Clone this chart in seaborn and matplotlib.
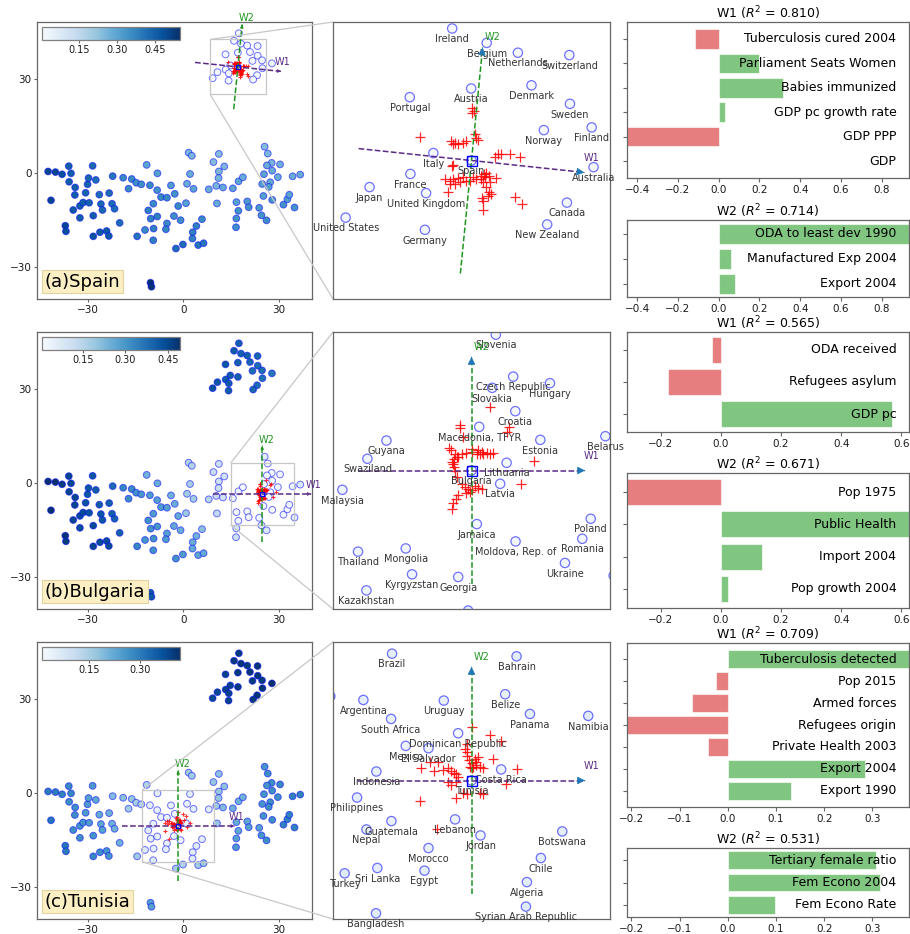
import numpy as np
import pandas as pd
import matplotlib
matplotlib.use('Agg')
import matplotlib.pyplot as plt
from matplotlib.colors import Normalize
from matplotlib.cm import ScalarMappable
from matplotlib.ticker import FormatStrFormatter
from mpl_toolkits.axes_grid1.inset_locator import mark_inset
import seaborn as sns

# === Embedding of the countries ===
top_names = ['', 'Ireland', 'Belgium', 'Netherlands', 'Switzerland', 'Portugal', 'Austria',
             'Denmark', 'Sweden', 'Finland', 'Norway', 'Italy', 'Spain', 'Australia', 'France',
             'Japan', 'United Kingdom', 'United States', 'Canada', 'Germany', 'New Zealand', '']
top_x = [17.5, 15.98, 18.16, 20.13, 23.38, 13.30, 17.18, 20.99, 23.42, 24.79, 21.77, 14.79,
         17.20, 24.91, 13.34, 10.76, 14.33, 9.25, 23.23, 14.26, 21.98, 27.9]
top_y = [44.6, 42.21, 41.30, 40.68, 40.53, 37.87, 38.42, 38.62, 37.45, 35.96, 35.79, 34.34,
         33.87, 33.45, 33.02, 32.19, 31.81, 30.26, 31.21, 29.49, 29.83, 35.0]

left_names = [''] * 34
left_x = [-42.5, -40.2, -38.1, -36.0, -35.3, -35.9, -34.0, -34.1, -41.6, -37.1, -36.9, -34.6,
          -32.5, -31.5, -32.5, -29.6, -30.7, -30.1, -29.8, -28.5, -27.5, -26.4, -25.9, -25.4,
          -28.3, -28.3, -26.2, -24.1, -23.4, -23.3, -22.4, -21.6, -20.0, -22.2]
left_y = [0.5, 0.3, -0.4, 2.2, -0.1, -2.8, -4.6, -7.0, -8.7, -16.8, -18.6, -11.8, -10.5, -9.4,
          -14.3, -9.5, -6.3, -3.6, -1.6, 2.3, -2.2, -6.9, -9.9, -11.8, -13.6, -20.2, -18.9,
          -18.5, -20.1, -6.4, -9.8, -11.4, -15.9, -1.0]

mid_names = ['', '', '', '', '', '', 'Argentina', 'Brazil', 'South Africa', 'Mexico',
             'El Salvador', 'Uruguay', 'Dominican Republic', 'Indonesia', 'Philippines', 'Nepal',
             'Guatemala', 'Morocco', 'Egypt', 'Sri Lanka', 'Turkey', '', 'Bangladesh', 'Tunisia',
             'Costa Rica', 'Lebanon', 'Jordan', '', '', 'Belize', 'Bahrain', 'Panama', '', '',
             'Botswana', 'Chile', 'Algeria', 'Syrian Arab Republic', '', '']
mid_x = [-18.9, -17.2, -16.2, -14.8, -13.2, -11.5, -10.48, -8.12, -8.20, -6.99, -5.12, -3.86,
         -2.68, -9.41, -11.0, -10.23, -8.17, -5.12, -5.45, -9.33, -12.02, -14.5, -9.44, -1.58,
         0.86, -2.93, -0.84, -2.3, -0.1, 1.19, 2.13, 3.23, 1.7, 2.7, 5.89, 4.13, 2.98, 2.90,
         4.7, 6.4]
mid_y = [-1.5, -5.0, -1.9, -3.1, -3.6, 2.6, -3.90, -0.09, -5.46, -7.68, -7.87, -3.95, -6.64,
         -9.79, -11.93, -14.56, -13.87, -16.09, -17.95, -17.73, -18.17, -20.2, -21.46, -10.53,
         -9.62, -13.73, -15.05, -24.1, -22.8, -3.43, -0.31, -5.05, 6.5, 5.5, -14.72, -16.91,
         -18.89, -20.91, -23.0, -22.4]

right_names = ['Namibia', '', '', '', '', '', '', '', '', 'Malaysia', 'Swaziland', 'Guyana',
               'Thailand', 'Mongolia', 'Kyrgyzstan', 'Kazakhstan', '', '', 'Georgia', '', '',
               '', 'Slovenia', 'Czech Republic', 'Slovakia', 'Hungary', 'Croatia', 'Estonia',
               'Macedonia, TFYR', 'Lithuania', 'Bulgaria', 'Latvia', 'Jamaica',
               'Moldova, Rep. of', 'Ukraine', 'Romania', 'Poland', '', 'Belarus', '']
right_x = [8.03, 9.5, 11.2, 12.9, 11.2, 11.1, 10.4, 12.5, 10.6, 15.61, 17.40, 18.76, 16.73,
           20.14, 20.59, 17.33, 16.7, 16.6, 23.89, 24.6, 26.2, 25.6, 26.58, 27.82, 26.32, 30.45,
           27.97, 29.76, 25.39, 27.35, 24.84, 26.89, 25.22, 27.99, 31.52, 32.76, 33.36, 35.0,
           34.41, 36.8]
right_y = [-5.21, 3.5, 6.1, 2.1, 0.5, -1.6, -4.1, -4.6, -9.7, -4.87, -2.65, -1.35, -9.29,
           -9.06, -10.91, -12.06, -14.5, -17.3, -11.1, -13.5, -15.1, 8.4, 6.22, 3.22, 2.42,
           2.75, 0.75, -1.30, -0.37, -2.94, -3.49, -4.44, -7.32, -8.56, -10.1, -8.37, -6.94,
           -11.0, -1.04, -0.5]

bottom_names = ['', '']
bottom_x = [-10.3, -10.0]
bottom_y = [-35.0, -36.3]

names = top_names + left_names + mid_names + right_names + bottom_names
emb_x = np.array(top_x + left_x + mid_x + right_x + bottom_x)
emb_y = np.array(top_y + left_y + mid_y + right_y + bottom_y)

# === Colour value of each country, one list per explained instance ===
spain_vals = ([0.02, 0.01, 0.01, 0.01, 0.02, 0.01, 0.01, 0.01, 0.02, 0.02, 0.01, 0.01, 0.003,
               0.02, 0.01, 0.02, 0.01, 0.02, 0.02, 0.02, 0.02, 0.03]
              + [0.50, 0.50, 0.48, 0.45, 0.45, 0.45, 0.45, 0.45, 0.50, 0.50, 0.48, 0.46, 0.45,
                 0.45, 0.45, 0.44, 0.44, 0.44, 0.43, 0.43, 0.42, 0.42, 0.43, 0.43, 0.45, 0.47,
                 0.46, 0.46, 0.46, 0.42, 0.42, 0.42, 0.42, 0.40]
              + [0.36, 0.36, 0.36, 0.35, 0.35, 0.30, 0.36, 0.31, 0.34, 0.36, 0.36, 0.32, 0.34,
                 0.36, 0.38, 0.38, 0.38, 0.36, 0.37, 0.38, 0.36, 0.40, 0.38, 0.36, 0.31, 0.35,
                 0.35, 0.42, 0.42, 0.28, 0.28, 0.30, 0.26, 0.26, 0.36, 0.38, 0.38, 0.38, 0.40,
                 0.40]
              + [0.28, 0.24, 0.24, 0.25, 0.25, 0.26, 0.26, 0.28, 0.28, 0.30, 0.30, 0.28, 0.31,
                 0.32, 0.34, 0.34, 0.34, 0.35, 0.33, 0.34, 0.35, 0.24, 0.25, 0.26, 0.28, 0.27,
                 0.28, 0.28, 0.30, 0.29, 0.31, 0.31, 0.31, 0.34, 0.34, 0.32, 0.30, 0.34, 0.28,
                 0.28]
              + [0.548, 0.54])
bulgaria_vals = ([0.40, 0.41, 0.40, 0.40, 0.39, 0.42, 0.40, 0.39, 0.38, 0.38, 0.38, 0.41, 0.40,
                  0.37, 0.41, 0.42, 0.41, 0.43, 0.38, 0.41, 0.39, 0.36]
                 + [0.49, 0.493, 0.47, 0.45, 0.45, 0.45, 0.45, 0.45, 0.49, 0.48, 0.47, 0.45, 0.44,
                    0.44, 0.44, 0.43, 0.43, 0.42, 0.42, 0.42, 0.41, 0.41, 0.42, 0.42, 0.44, 0.45,
                    0.44, 0.44, 0.44, 0.40, 0.40, 0.40, 0.40, 0.38]
                 + [0.33, 0.32, 0.32, 0.31, 0.30, 0.24, 0.29, 0.25, 0.28, 0.29, 0.28, 0.24, 0.25,
                    0.29, 0.31, 0.31, 0.30, 0.28, 0.29, 0.31, 0.30, 0.33, 0.31, 0.26, 0.19, 0.26,
                    0.25, 0.31, 0.29, 0.18, 0.17, 0.18, 0.16, 0.16, 0.21, 0.24, 0.25, 0.26, 0.27,
                    0.26]
                 + [0.15, 0.12, 0.11, 0.10, 0.11, 0.11, 0.12, 0.10, 0.13, 0.03, 0.03, 0.02, 0.03,
                    0.02, 0.03, 0.03, 0.09, 0.11, 0.02, 0.06, 0.07, 0.06, 0.02, 0.02, 0.01, 0.02,
                    0.01, 0.02, 0.01, 0.01, 0.006, 0.01, 0.02, 0.02, 0.03, 0.02, 0.03, 0.06, 0.03,
                    0.07]
                 + [0.42, 0.42])
tunisia_vals = ([0.40, 0.40, 0.41, 0.40, 0.41, 0.39, 0.40, 0.41, 0.41, 0.40, 0.40, 0.39, 0.40,
                 0.41, 0.39, 0.38, 0.39, 0.38, 0.41, 0.39, 0.40, 0.419]
                + [0.30, 0.30, 0.29, 0.28, 0.28, 0.27, 0.27, 0.27, 0.31, 0.31, 0.30, 0.27, 0.26,
                   0.26, 0.27, 0.25, 0.25, 0.25, 0.24, 0.25, 0.23, 0.22, 0.23, 0.24, 0.26, 0.28,
                   0.27, 0.26, 0.26, 0.21, 0.21, 0.21, 0.21, 0.19]
                + [0.18, 0.16, 0.17, 0.15, 0.14, 0.14, 0.05, 0.05, 0.04, 0.03, 0.03, 0.04, 0.02,
                   0.04, 0.05, 0.05, 0.04, 0.04, 0.05, 0.05, 0.06, 0.16, 0.06, 0.009, 0.03, 0.03,
                   0.03, 0.15, 0.14, 0.04, 0.05, 0.05, 0.16, 0.16, 0.05, 0.05, 0.05, 0.06, 0.16,
                   0.17]
                + [0.06, 0.17, 0.18, 0.18, 0.17, 0.17, 0.16, 0.19, 0.17, 0.21, 0.21, 0.21, 0.22,
                   0.23, 0.24, 0.23, 0.24, 0.25, 0.24, 0.26, 0.27, 0.26, 0.27, 0.27, 0.26, 0.28,
                   0.27, 0.27, 0.26, 0.27, 0.26, 0.27, 0.26, 0.27, 0.29, 0.29, 0.29, 0.29, 0.29,
                   0.29]
                + [0.24, 0.24])

# === Perturbed samples around each instance (red crosses) ===
spain_cross_x = [13.95, 15.88, 16.00, 16.15, 16.32, 16.67, 16.88, 17.45, 17.51, 17.64, 17.26,
                 17.35, 17.20, 15.94, 16.00, 15.52, 15.84, 16.05, 16.36, 16.67, 17.09, 17.51,
                 17.83, 17.97, 18.14, 18.31, 17.83, 17.93, 18.04, 18.35, 18.77, 18.14, 18.31,
                 18.41, 18.25, 17.89, 17.93, 17.93, 15.69, 15.84, 18.67, 18.88, 19.08, 19.61,
                 20.24, 19.92, 20.41, 17.30, 16.88, 16.46, 16.15]
spain_cross_y = [35.36, 35.08, 34.89, 34.98, 34.89, 34.98, 35.08, 35.53, 35.32, 35.19, 37.17,
                 37.00, 36.89, 33.51, 33.60, 32.70, 32.60, 32.70, 32.75, 32.81, 32.60, 32.70,
                 32.92, 33.02, 33.06, 32.92, 32.70, 32.49, 32.81, 32.49, 32.75, 32.17, 31.85,
                 31.75, 31.64, 31.53, 31.32, 30.72, 31.85, 32.38, 34.09, 34.26, 34.30, 34.26,
                 34.09, 31.58, 31.11, 32.81, 32.60, 32.49, 32.38]
bulgaria_cross_x = [26.15, 24.01, 24.05, 24.25, 27.49, 27.35, 29.30, 28.37, 23.24, 23.41, 23.65,
                    23.89, 24.13, 24.48, 24.84, 24.91, 25.20, 25.44, 25.68, 25.92, 26.15, 26.39,
                    25.32, 25.56, 23.48, 23.58, 23.65, 23.77, 24.13, 24.36, 24.60, 24.84, 25.08,
                    25.32, 25.56, 24.72, 24.48, 23.89, 23.72, 23.53, 23.43, 23.77, 23.58, 23.53]
bulgaria_cross_y = [1.08, -0.27, -0.44, -1.06, -0.35, -0.75, -2.82, -4.49, -1.87, -2.06, -2.30,
                    -2.49, -2.34, -2.25, -1.94, -2.18, -2.30, -2.34, -2.30, -2.25, -2.30, -2.25,
                    -2.06, -2.18, -2.89, -3.25, -3.49, -3.96, -4.44, -4.68, -4.80, -4.87, -4.63,
                    -4.72, -4.80, -5.03, -5.11, -5.27, -5.51, -5.82, -6.27, -2.54, -2.65, -3.01]
tunisia_cross_x = [-1.55, -0.07, 0.81, -1.99, -2.13, -1.99, -1.94, -1.77, -1.58, -1.44, -1.17,
                   -0.89, -0.62, -1.03, -1.31, -1.17, 0.15, 2.18, 1.25, -5.01, -4.33, -5.70,
                   -4.68, -3.91, -3.50, -3.23, -3.04, -2.87, -2.68, -2.82, -3.50, -3.23, -2.32,
                   -1.99, -2.82, -5.84, -4.46, -0.89, -0.67, -1.72, -1.50]
tunisia_cross_y = [-6.12, -6.75, -7.27, -7.49, -7.90, -8.17, -8.53, -8.86, -9.13, -9.41, -9.27,
                   -9.41, -9.54, -8.58, -8.72, -8.99, -8.75, -9.62, -10.78, -8.99, -8.99, -9.49,
                   -9.73, -9.68, -9.54, -9.73, -9.90, -10.01, -10.23, -10.64, -10.69, -10.91,
                   -11.60, -11.65, -11.93, -12.23, -14.56, -11.54, -11.65, -9.41, -9.54]

# === Explanation directions in the embedding ===
w1_dirs = [(0.994, -0.105), (1.0, 0.0), (1.0, 0.0)]
w2_dirs = [(0.098, 0.995), (0.0, 1.0), (0.0, 1.0)]

# === Feature weights ===
spain_w1_feat = ['Tuberculosis cured 2004', 'Parliament Seats Women', 'Babies immunized',
                 'GDP pc growth rate', 'GDP PPP', 'GDP']
spain_w1_val = [-0.116, 0.198, 0.317, 0.031, -0.45, 0.0]
spain_w2_feat = ['ODA to least dev 1990', 'Manufactured Exp 2004', 'Export 2004']
spain_w2_val = [0.934, 0.062, 0.08]
bulgaria_w1_feat = ['ODA received', 'Refugees asylum', 'GDP pc']
bulgaria_w1_val = [-0.03, -0.176, 0.57]
bulgaria_w2_feat = ['Pop 1975', 'Public Health', 'Import 2004', 'Pop growth 2004']
bulgaria_w2_val = [-0.312, 0.625, 0.137, 0.024]
tunisia_w1_feat = ['Tuberculosis detected', 'Pop 2015', 'Armed forces', 'Refugees origin',
                   'Private Health 2003', 'Export 2004', 'Export 1990']
tunisia_w1_val = [0.376, -0.024, -0.075, -0.209, -0.042, 0.285, 0.131]
tunisia_w2_feat = ['Tertiary female ratio', 'Fem Econo 2004', 'Fem Econo Rate']
tunisia_w2_val = [0.308, 0.315, 0.099]

r2_w1 = ['0.810', '0.565', '0.709']
r2_w2 = ['0.714', '0.671', '0.531']
instances = ['Spain', 'Bulgaria', 'Tunisia']
tags = ['(a)Spain', '(b)Bulgaria', '(c)Tunisia']
cbar_ticks = [[0.15, 0.30, 0.45], [0.15, 0.30, 0.45], [0.15, 0.30]]

rows = [
    (spain_vals, spain_cross_x, spain_cross_y, spain_w1_feat, spain_w1_val, spain_w2_feat, spain_w2_val),
    (bulgaria_vals, bulgaria_cross_x, bulgaria_cross_y, bulgaria_w1_feat, bulgaria_w1_val, bulgaria_w2_feat, bulgaria_w2_val),
    (tunisia_vals, tunisia_cross_x, tunisia_cross_y, tunisia_w1_feat, tunisia_w1_val, tunisia_w2_feat, tunisia_w2_val),
]

# === Style / layout ===
plt.rcParams.update({
    'font.family': ['DejaVu Sans'],
    'axes.edgecolor': '0.4',
    'axes.linewidth': 0.9,
    'xtick.color': '0.4',
    'ytick.color': '0.4',
    'xtick.labelcolor': '0.1',
    'ytick.labelcolor': '0.1',
    'xtick.labelsize': 7.5,
    'ytick.labelsize': 7.5,
})
W1_COLOR = '#5b2a86'
W2_COLOR = '#1f961f'
EDGE = (0, 0, 1, 0.55)

FIG_W, FIG_H = 910, 934
fig = plt.figure(figsize=(FIG_W / 100, FIG_H / 100), dpi=100)


def px_axes(x0, y0, x1, y1):
    return fig.add_axes([x0 / FIG_W, 1 - y1 / FIG_H, (x1 - x0) / FIG_W, (y1 - y0) / FIG_H])


row_tops = [22, 332, 642]
row_bottoms = [299, 609, 919]
bar_boxes = [((22, 178), (220, 297)), ((332, 432), (473, 608)), ((643, 807), (848, 917))]
half_win = [8.75, 9.9, 11.4]


def draw_axes_arrows(ax, cx, cy, d1, d2, length, head, head_color, off1, off2):
    for d, c, lab, off in [(d1, W1_COLOR, 'W1', off1), (d2, W2_COLOR, 'W2', off2)]:
        tip = (cx + length * d[0], cy + length * d[1])
        tail = (cx - length * d[0], cy - length * d[1])
        ax.plot([tail[0], tip[0]], [tail[1], tip[1]], ls='--', color=c, lw=1.1, zorder=3)
        ax.annotate('', xy=tip, xytext=(tip[0] - 0.02 * d[0], tip[1] - 0.02 * d[1]),
                    arrowprops=dict(arrowstyle='-|>', color=head_color or c, lw=0.5,
                                    shrinkA=0, shrinkB=0, mutation_scale=head), zorder=4)
        ax.annotate(lab, xy=tip, xytext=off, textcoords='offset points', color=c,
                    fontsize=7, ha='center', va='center', zorder=5)


def draw_bars(ax, feats, vals, title, xlim):
    df = pd.DataFrame({'feature': feats, 'weight': vals})
    colors = ['tab:green' if v >= 0 else 'tab:red' for v in vals]
    sns.barplot(data=df, x='weight', y='feature', hue='feature', palette=colors, legend=False,
                orient='h', alpha=0.6, saturation=1, edgecolor='white', linewidth=0.8,
                width=0.8, ax=ax)
    n = len(feats)
    m = 0.05 * (n - 0.2)
    ax.set_ylim(n - 0.6 + m, -0.4 - m)
    ax.set_xlim(xlim)
    ax.set_yticks(range(n))
    ax.set_yticklabels([])
    ax.set_xlabel('')
    ax.set_ylabel('')
    ax.tick_params(axis='y', length=3)
    ax.tick_params(axis='x', length=3, pad=2)
    for i, f in enumerate(feats):
        ax.text(0.955, i, f, transform=ax.get_yaxis_transform(), ha='right', va='center',
                fontsize=9, color='black')
    ax.set_title(title, fontsize=9, pad=3)


for r, (vals, cx_list, cy_list, f1, v1, f2, v2) in enumerate(rows):
    vals = np.array(vals)
    norm = Normalize(vals.min(), vals.max())
    k = names.index(instances[r])
    cx, cy = emb_x[k], emb_y[k]
    hw = half_win[r]

    # --- overview embedding ---
    ax = px_axes(37, row_tops[r], 312, row_bottoms[r])
    ax.scatter(emb_x, emb_y, c=vals, cmap='Blues', norm=norm, s=24, edgecolors=[EDGE],
               linewidths=0.7, zorder=1)
    ax.plot(cx_list, cy_list, '+', color='red', ms=2.5, mew=0.8, alpha=0.8, zorder=2)
    ax.plot([cx], [cy], 's', mfc='none', mec='blue', ms=3.5, mew=0.9, zorder=4)
    draw_axes_arrows(ax, cx, cy, w1_dirs[r], w2_dirs[r], 1.55 * hw, 5, None,
                     (1.5, 6.5), (3, 4.5))
    ax.set_xlim(-46, 40.5)
    ax.set_ylim(-40.2, 48.2)
    ax.set_xticks([-30, 0, 30])
    ax.set_yticks([-30, 0, 30])
    ax.tick_params(length=2.5, pad=1.5)
    ax.text(0.027, 0.03, tags[r], transform=ax.transAxes, fontsize=13, ha='left', va='bottom',
            bbox=dict(boxstyle='square,pad=0.15', fc='#fdefc4', ec='#e3d3a3', lw=0.8), zorder=6)

    cax = ax.inset_axes([0.017, 0.935, 0.504, 0.048])
    sm = ScalarMappable(norm=norm, cmap='Blues')
    cb = fig.colorbar(sm, cax=cax, orientation='horizontal', ticks=cbar_ticks[r])
    cb.ax.xaxis.set_major_formatter(FormatStrFormatter('%.2f'))
    cb.ax.tick_params(labelsize=7, length=2, pad=1.5)
    cb.outline.set_edgecolor('0.5')

    # --- zoomed neighbourhood ---
    axm = px_axes(333, row_tops[r], 610, row_bottoms[r])
    axm.scatter(emb_x, emb_y, c=vals, cmap='Blues', norm=norm, s=45, edgecolors=[EDGE],
                linewidths=0.9, zorder=1)
    axm.plot(cx_list, cy_list, '+', color='red', ms=6.5, mew=0.9, alpha=0.85, zorder=2)
    axm.plot([cx], [cy], 's', mfc='none', mec='blue', ms=6.5, mew=1, zorder=4)
    draw_axes_arrows(axm, cx, cy, w1_dirs[r], w2_dirs[r], 0.82 * hw, 12, 'tab:blue',
                     (5, 10.5), (7.5, 7.5))
    axm.set_xlim(cx - hw, cx + hw)
    axm.set_ylim(cy - hw, cy + hw)
    for name, x, y in zip(names, emb_x, emb_y):
        if name:
            axm.annotate(name, xy=(x, y), xytext=(0, -7.7), textcoords='offset points',
                         ha='center', va='center', fontsize=7, color='0.2')
    axm.set_xticks([])
    axm.set_yticks([])
    mark_inset(ax, axm, loc1=2, loc2=3, fc='none', ec='0.78', lw=0.9)

    # --- feature weights ---
    allv = v1 + v2
    xlim = (min(allv), max(allv))
    (t1, b1), (t2, b2) = bar_boxes[r]
    axb1 = px_axes(627, t1, 909, b1)
    draw_bars(axb1, f1, v1, 'W1 ($R^2$ = %s)' % r2_w1[r], xlim)
    axb2 = px_axes(627, t2, 909, b2)
    draw_bars(axb2, f2, v2, 'W2 ($R^2$ = %s)' % r2_w2[r], xlim)

fig.savefig('out.png', dpi=100, facecolor='white')
